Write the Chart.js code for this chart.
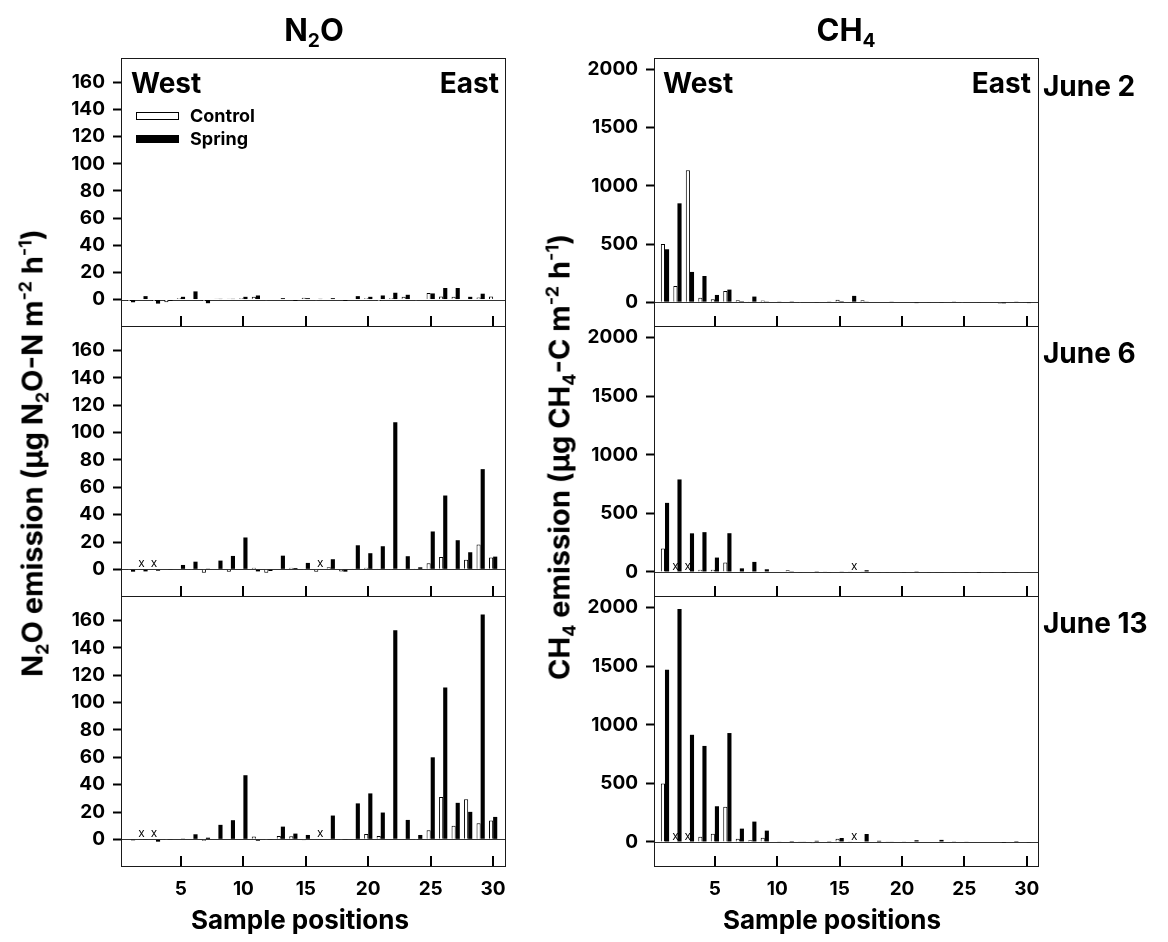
<!DOCTYPE html>
<html>
<head>
<meta charset="utf-8">
<script src="https://cdn.jsdelivr.net/npm/chart.js@4/dist/chart.umd.min.js"></script>
<style>
  html, body { margin: 0; padding: 0; background: #fff; }
  body {
    width: 1168px; height: 942px; position: relative; overflow: hidden;
    font-family: Inter, "Liberation Sans", Arial, sans-serif; font-weight: 700; color: #000;
  }
  canvas.panel { position: absolute; }
  .t { position: absolute; white-space: nowrap; line-height: 1; }
  .t sub, .t sup { font-size: 0.62em; line-height: 0; }
  .t sub { vertical-align: -0.32em; }
  .t sup { vertical-align: 0.62em; }
  .cy { transform: translateY(-50%); }
  .cxy { transform: translate(-50%, -50%); }
  .ry { transform: translate(-100%, -50%); }
  .rot { transform: translate(-50%, -50%) rotate(-90deg); }
  .sw { position: absolute; width: 43px; height: 8px; box-sizing: border-box; border: 1px solid #000; }
</style>
</head>
<body>
<canvas class="panel" id="n2o-0"></canvas>
<canvas class="panel" id="n2o-1"></canvas>
<canvas class="panel" id="n2o-2"></canvas>
<canvas class="panel" id="ch4-0"></canvas>
<canvas class="panel" id="ch4-1"></canvas>
<canvas class="panel" id="ch4-2"></canvas>

<div class="t cxy" style="left:314px;top:29px;font-size:31px">N<sub>2</sub>O</div>
<div class="t cxy" style="left:846px;top:29px;font-size:31px">CH<sub>4</sub></div>

<div class="t cy" style="left:131px;top:83px;font-size:28px">West</div>
<div class="t ry" style="left:499px;top:83px;font-size:28px">East</div>
<div class="t cy" style="left:663px;top:83px;font-size:28px">West</div>
<div class="t ry" style="left:1031px;top:83px;font-size:28px">East</div>

<div id="legend"></div>

<div class="t cy" style="left:1043px;top:86px;font-size:28px">June 2</div>
<div class="t cy" style="left:1043px;top:353px;font-size:28px">June 6</div>
<div class="t cy" style="left:1043px;top:623px;font-size:28px">June 13</div>

<div class="t rot" style="left:32px;top:453px;font-size:29px">N<sub>2</sub>O emission (µg N<sub>2</sub>O-N m<sup>-2</sup> h<sup>-1</sup>)</div>
<div class="t rot" style="left:559px;top:457px;font-size:29px">CH<sub>4</sub> emission (µg CH<sub>4</sub>-C m<sup>-2</sup> h<sup>-1</sup>)</div>

<div class="t cxy" style="left:300px;top:920px;font-size:26px">Sample positions</div>
<div class="t cxy" style="left:832px;top:920px;font-size:26px">Sample positions</div>

<script>
// Sample positions along the transect (west -> east)
const positions = [1,2,3,4,5,6,7,8,9,10,11,12,13,14,15,16,17,18,19,20,21,22,23,24,25,26,27,28,29,30];
const seriesNames = ['Control', 'Spring'];
const dates = ['June 2', 'June 6', 'June 13'];

// Tick labels
const xTicks = [5, 10, 15, 20, 25, 30];
const n2oTicks = [0, 20, 40, 60, 80, 100, 120, 140, 160];
const ch4Ticks = [0, 500, 1000, 1500, 2000];

// N2O emission (µg N2O-N m-2 h-1); null = no measurement
const n2oControlJun2 = [-1, 0, -1, -2, 1, 0, -1, 0.5, 0.5, 1, 2, -0.5, 0, 0, 1.3, -0.5, 0, 0, 0, 1, -1, 1, 2, -0.5, 4.8, 2.3, 2, 0, 1.5, 2.3];
const n2oSpringJun2  = [-2, 2.5, -3, -1, 2, 6, -2.7, 0.5, 0.5, 2, 3, 0, 1, -1, 1, 0.5, 1, -1, 2.5, 2, 3, 5, 3.5, 0, 4.5, 8.5, 8.5, 2, 4.3, 0];
const n2oControlJun6 = [-0.5, null, null, 0.5, 0, -0.5, -2.5, 0, -1.7, 0, 1.2, -2.5, 0.5, 1.2, -0.5, -1.7, 1.5, -1.5, 0.7, 1.2, 0.7, -0.5, -0.3, 0.7, 4.4, 9, 0.5, 7.1, 18.1, 8.6];
const n2oSpringJun6  = [-1.7, -1.5, -1, -0.5, 3.2, 5.6, 0.5, 6.4, 9.8, 23.3, -1.5, -1.2, 10, 1, 4.7, null, 7.4, -1.7, 17.6, 11.8, 16.9, 107.6, 9.6, 1.5, 27.7, 54, 21.3, 12.5, 73.3, 9.3];
const n2oControlJun13 = [0, null, null, -0.5, 0, 0, -1, 0, 0, 0.5, 2, -0.5, 2.5, 2.2, -0.7, 0, 0.5, -0.5, -0.5, 3.9, 2.5, 0, 0.5, -0.5, 6.6, 31, 10, 29.4, 11.8, 13.7];
const n2oSpringJun13  = [-0.7, -0.5, -1.7, -0.5, 0.5, 3.7, 1.2, 10.6, 14, 46.9, -1, -0.5, 9.3, 4.2, 3.2, null, 17.4, -0.5, 26.3, 33.6, 19.6, 153, 14.2, 3.2, 60, 111, 26.7, 20.1, 164.4, 16.4];

// CH4 emission (µg CH4-C m-2 h-1); null = no measurement
const ch4ControlJun2 = [500, 140, 1135, 37, 25, 95, 17, 5, 14, 4, 3, -3, -4, 0, 20, 0, 17, 0, 0, 0, -4, -5, -5, 0, -3, 3, -4, -12, -5, -7];
const ch4SpringJun2  = [455, 850, 260, 225, 62, 108, 8, 48, 6, 3, 2, 0, -3, 3, 8, 54, 3, 0, 3, 0, -8, -5, -6, 3, 0, -5, -4, -10, 3, -8];
const ch4ControlJun6 = [200, null, null, 20, 20, 80, 5, 0, 0, -5, 14, -3, 0, 2, 5, 3, 2, -5, -3, -5, 0, -5, -3, -5, -3, -5, 0, -5, -3, -5];
const ch4SpringJun6  = [590, 790, 330, 340, 123, 331, 31, 86, 23, 0, 2, 0, 2, -3, 3, null, 15, -5, 0, -3, 2, -5, -5, -5, -3, -8, -3, -8, -3, -5];
const ch4ControlJun13 = [500, null, null, 45, 70, 300, 28, 14, 37, 5, 5, 3, -10, 0, 28, 2, 0, 5, 3, 0, -5, 0, -5, 0, 0, 0, 0, 0, 0, 0];
const ch4SpringJun13  = [1470, 1990, 915, 820, 305, 930, 114, 174, 97, 5, 8, 5, 10, 2, 34, null, 68, 10, 5, 5, 15, 0, 18, 3, 5, 0, 0, -8, 8, -6];

const FONT = 'Inter, "Liberation Sans", Arial, sans-serif';
Chart.defaults.font.family = FONT;
Chart.defaults.font.weight = 'bold';
Chart.defaults.font.size = 19;
Chart.defaults.color = '#000';

// Frame, zero line, inward x ticks and "x" marks for missing samples
const panelDecor = {
  id: 'panelDecor',
  beforeDatasetsDraw(chart) {
    const { ctx, chartArea: a, scales: { y } } = chart;
    const y0 = Math.round(y.getPixelForValue(0)) + 0.5;
    ctx.save();
    ctx.strokeStyle = '#333';
    ctx.lineWidth = 1;
    ctx.beginPath();
    ctx.moveTo(a.left, y0);
    ctx.lineTo(a.right, y0);
    ctx.stroke();
    ctx.restore();
  },
  afterDatasetsDraw(chart) {
    const { ctx, chartArea: a, scales: { x, y } } = chart;
    ctx.save();
    ctx.strokeStyle = '#000';
    ctx.lineWidth = 2;
    x.ticks.forEach(t => {
      const px = Math.round(x.getPixelForValue(t.value));
      ctx.beginPath();
      ctx.moveTo(px, a.bottom);
      ctx.lineTo(px, a.bottom - 10);
      ctx.stroke();
    });
    ctx.lineWidth = 1;
    ctx.strokeStyle = '#1a1a1a';
    ctx.strokeRect(Math.round(a.left) + 0.5, Math.round(a.top) + 0.5,
                   Math.round(a.right) - Math.round(a.left), Math.round(a.bottom) - Math.round(a.top));
    const y0 = y.getPixelForValue(0);
    ctx.fillStyle = '#000';
    ctx.font = '12px "Liberation Sans", Arial, sans-serif';
    ctx.textAlign = 'center';
    ctx.textBaseline = 'alphabetic';
    chart.data.datasets.forEach((ds, di) => {
      const meta = chart.getDatasetMeta(di);
      ds.data.forEach((pt, i) => {
        if (pt.y === null) {
          const el = meta.data[i];
          const px = el && isFinite(el.x) ? el.x : x.getPixelForValue(pt.x);
          ctx.fillText('x', px, y0 - 2);
        }
      });
    });
    ctx.restore();
  }
};

function points(values) {
  return positions.map((p, i) => ({ x: p, y: values[i] }));
}

// fixed scale box: no extra room reserved for overhanging labels
function fixBox(s, w, h) {
  if (w !== null) s.width = w;
  if (h !== null) s.height = h;
  s.paddingTop = 0; s.paddingBottom = 0; s.paddingLeft = 0; s.paddingRight = 0;
}

const columns = {
  n2o: { left: 40, yWidth: 81, plotRight: 505, xMin: 0.2, xMax: 30.95, yMin: -19.5, yMax: 178, ticks: n2oTicks,
         series: [[n2oControlJun2, n2oSpringJun2], [n2oControlJun6, n2oSpringJun6], [n2oControlJun13, n2oSpringJun13]] },
  ch4: { left: 575, yWidth: 79, plotRight: 1038, xMin: 0.12, xMax: 30.9, yMin: -205, yMax: 2100, ticks: ch4Ticks,
         series: [[ch4ControlJun2, ch4SpringJun2], [ch4ControlJun6, ch4SpringJun6], [ch4ControlJun13, ch4SpringJun13]] }
};
const rowEdges = [[58, 326], [326, 596], [596, 866]];
const PAD = 6;

Object.entries(columns).forEach(([key, col]) => {
  rowEdges.forEach(([top, bottom], r) => {
    const isBottom = r === rowEdges.length - 1;
    const xHeight = isBottom ? 40 : 0;
    const padBottom = isBottom ? 4 : PAD;
    const canvas = document.getElementById(key + '-' + r);
    const width = col.plotRight + PAD - col.left;
    const height = (bottom - top) + PAD + xHeight + padBottom;
    canvas.width = width;
    canvas.height = height;
    canvas.style.left = col.left + 'px';
    canvas.style.top = (top - PAD) + 'px';
    canvas.style.width = width + 'px';
    canvas.style.height = height + 'px';
    const [ctrl, spring] = col.series[r];

    new Chart(canvas, {
      type: 'bar',
      data: {
        datasets: [
          { label: seriesNames[0], data: points(ctrl), backgroundColor: '#fff', borderColor: '#000', borderWidth: 1 },
          { label: seriesNames[1], data: points(spring), backgroundColor: '#000', borderColor: '#000', borderWidth: 0 }
        ]
      },
      options: {
        responsive: false,
        animation: false,
        events: [],
        categoryPercentage: 0.66,
        barPercentage: 1,
        layout: { padding: { top: PAD, right: PAD, left: 0, bottom: padBottom } },
        plugins: { legend: { display: false }, tooltip: { enabled: false }, title: { display: false } },
        scales: {
          x: {
            type: 'linear',
            min: col.xMin,
            max: col.xMax,
            offset: false,
            afterBuildTicks: s => { s.ticks = xTicks.map(v => ({ value: v })); },
            afterFit: s => fixBox(s, null, xHeight),
            ticks: { display: isBottom, padding: 12, maxRotation: 0, autoSkip: false,
                     font: { size: 19, weight: 'bold' }, callback: v => String(v) },
            grid: { display: false, drawTicks: false },
            border: { display: false }
          },
          y: {
            type: 'linear',
            min: col.yMin,
            max: col.yMax,
            afterBuildTicks: s => { s.ticks = col.ticks.map(v => ({ value: v })); },
            afterFit: s => fixBox(s, col.yWidth, null),
            ticks: { padding: 8, autoSkip: false, font: { size: 19, weight: 'bold' }, callback: v => String(v) },
            grid: { drawOnChartArea: false, drawTicks: true, tickLength: 8, tickWidth: 2, tickColor: '#000' },
            border: { display: false }
          }
        }
      },
      plugins: [panelDecor]
    });
  });
});

// Legend in the first N2O panel
const legend = document.getElementById('legend');
const fills = ['#fff', '#000'];
const legendRows = [116, 139];
seriesNames.forEach((name, i) => {
  const sw = document.createElement('div');
  sw.className = 'sw';
  sw.style.left = '136px';
  sw.style.top = (legendRows[i] - 4) + 'px';
  sw.style.background = fills[i];
  legend.appendChild(sw);
  const lab = document.createElement('div');
  lab.className = 't cy';
  lab.style.left = '190px';
  lab.style.top = legendRows[i] + 'px';
  lab.style.fontSize = '18px';
  lab.textContent = name;
  legend.appendChild(lab);
});
</script>
</body>
</html>
